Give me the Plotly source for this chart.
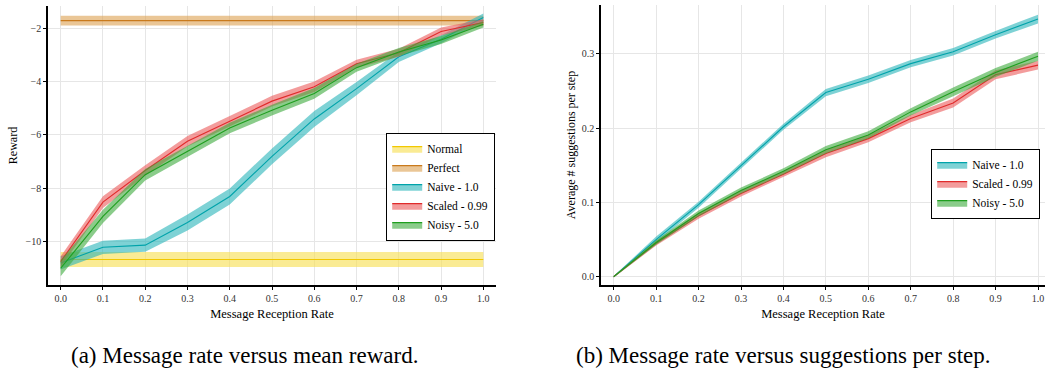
import plotly.graph_objects as go

rates = [0.0, 0.1, 0.2, 0.3, 0.4, 0.5, 0.6, 0.7, 0.8, 0.9, 1.0]

# (a) reward
normal_mean, normal_sd = -10.69, 0.28
perfect_mean, perfect_sd = -1.70, 0.18
naive_reward = [-10.82, -10.23, -10.15, -9.30, -8.32, -6.81, -5.40, -4.26, -3.06, -2.40, -1.58]
scaled_reward = [-10.77, -8.53, -7.34, -6.24, -5.49, -4.73, -4.19, -3.32, -2.91, -2.11, -1.77]
noisy_reward = [-11.02, -9.07, -7.50, -6.62, -5.74, -5.07, -4.44, -3.47, -2.88, -2.43, -1.84]
naive_reward_sd = [0.25, 0.25, 0.25, 0.3, 0.3, 0.3, 0.3, 0.25, 0.2, 0.15, 0.15]
scaled_reward_sd = [0.2, 0.22, 0.2, 0.2, 0.2, 0.2, 0.2, 0.15, 0.15, 0.15, 0.12]
noisy_reward_sd = [0.3, 0.25, 0.22, 0.22, 0.2, 0.2, 0.2, 0.15, 0.15, 0.15, 0.12]

# (b) suggestions per step
naive_sugg = [0.0, 0.050, 0.097, 0.150, 0.202, 0.248, 0.266, 0.287, 0.303, 0.326, 0.347]
scaled_sugg = [0.0, 0.045, 0.082, 0.112, 0.138, 0.166, 0.186, 0.213, 0.234, 0.272, 0.285]
noisy_sugg = [0.0, 0.046, 0.085, 0.116, 0.142, 0.171, 0.191, 0.222, 0.249, 0.275, 0.297]
naive_sugg_sd = [0.001, 0.004, 0.004, 0.004, 0.004, 0.005, 0.005, 0.005, 0.005, 0.005, 0.006]
scaled_sugg_sd = [0.001, 0.003, 0.004, 0.004, 0.004, 0.005, 0.005, 0.005, 0.006, 0.006, 0.006]
noisy_sugg_sd = [0.001, 0.003, 0.004, 0.004, 0.004, 0.005, 0.005, 0.005, 0.006, 0.006, 0.006]

colors = {
    "Normal": ("#f2c800", "rgba(248,224,90,0.65)"),
    "Perfect": ("#c97a1c", "rgba(220,160,80,0.6)"),
    "Naive - 1.0": ("#00a3aa", "rgba(40,180,185,0.6)"),
    "Scaled - 0.99": ("#e02b2b", "rgba(235,90,90,0.6)"),
    "Noisy - 5.0": ("#1f9e1f", "rgba(60,170,60,0.6)"),
}

FONT = "Liberation Serif, DejaVu Serif, serif"
fig = go.Figure()


def add_series(name, x, mean, sd, xa, ya, legend):
    line_c, fill_c = colors[name]
    up = [m + s for m, s in zip(mean, sd)]
    lo = [m - s for m, s in zip(mean, sd)]
    fig.add_trace(go.Scatter(x=x + x[::-1], y=up + lo[::-1], fill="toself", fillcolor=fill_c,
                             line=dict(width=0), mode="lines", hoverinfo="skip",
                             showlegend=False, xaxis=xa, yaxis=ya))
    fig.add_trace(go.Scatter(x=x, y=mean, mode="lines", line=dict(color=line_c, width=1.1),
                             showlegend=False, xaxis=xa, yaxis=ya))
    fig.add_trace(go.Scatter(x=[None, None, None], y=[None, None, None], fill="toself",
                             fillcolor=fill_c, line=dict(color=line_c, width=1.2), mode="lines",
                             name=name, showlegend=True, legend=legend, xaxis=xa, yaxis=ya))


add_series("Normal", rates, [normal_mean] * len(rates), [normal_sd] * len(rates), "x", "y", "legend")
add_series("Perfect", rates, [perfect_mean] * len(rates), [perfect_sd] * len(rates), "x", "y", "legend")
add_series("Naive - 1.0", rates, naive_reward, naive_reward_sd, "x", "y", "legend")
add_series("Scaled - 0.99", rates, scaled_reward, scaled_reward_sd, "x", "y", "legend")
add_series("Noisy - 5.0", rates, noisy_reward, noisy_reward_sd, "x", "y", "legend")

add_series("Naive - 1.0", rates, naive_sugg, naive_sugg_sd, "x2", "y2", "legend2")
add_series("Scaled - 0.99", rates, scaled_sugg, scaled_sugg_sd, "x2", "y2", "legend2")
add_series("Noisy - 5.0", rates, noisy_sugg, noisy_sugg_sd, "x2", "y2", "legend2")

W, H = 1046, 372


def px(v):
    return v / W


def py(v):
    return 1 - v / H


axis_common = dict(showline=True, linecolor="black", linewidth=1.5, mirror=False,
                   showgrid=True, gridcolor="#e6e6e6", gridwidth=1, zeroline=False,
                   ticks="outside", ticklen=3, tickcolor="black", automargin=False,
                   tickfont=dict(family=FONT, size=10, color="#333"))

xticks = [0.0, 0.1, 0.2, 0.3, 0.4, 0.5, 0.6, 0.7, 0.8, 0.9, 1.0]

legend_common = dict(yanchor="top", bgcolor="white", bordercolor="black",
                     borderwidth=1.2, font=dict(family=FONT, size=11.5), tracegroupgap=0,
                     itemwidth=30)

fig.update_layout(
    width=W, height=H, margin=dict(l=0, r=0, t=0, b=0, autoexpand=False),
    paper_bgcolor="white", plot_bgcolor="white",
    font=dict(family=FONT, color="black"),
    xaxis=dict(domain=[px(48), px(496)], range=[-0.03, 1.03], tickvals=xticks,
               ticktext=[f"{v:.1f}" for v in xticks],
               title=dict(text="Message Reception Rate", font=dict(family=FONT, size=12.5), standoff=6),
               anchor="y", **axis_common),
    yaxis=dict(domain=[py(285), py(6)], range=[-11.65, -1.15],
               tickvals=[-10, -8, -6, -4, -2],
               title=dict(text="Reward", font=dict(family=FONT, size=12), standoff=5),
               anchor="x", **axis_common),
    xaxis2=dict(domain=[px(601), px(1045)], range=[-0.03, 1.0165], tickvals=xticks,
                ticktext=[f"{v:.1f}" for v in xticks],
                title=dict(text="Message Reception Rate", font=dict(family=FONT, size=12.5), standoff=6),
                anchor="y2", **axis_common),
    yaxis2=dict(domain=[py(285), py(5)], range=[-0.0112, 0.366],
                tickvals=[0.0, 0.1, 0.2, 0.3], ticktext=["0.0", "0.1", "0.2", "0.3"],
                title=dict(text="Average # suggestions per step", font=dict(family=FONT, size=12), standoff=4),
                anchor="x2", **axis_common),
    legend=dict(x=px(386), y=py(133), xanchor="left", **legend_common),
    legend2=dict(x=px(1040), y=py(149), xanchor="right", **legend_common),
    annotations=[
        dict(text="(a) Message rate versus mean reward.", x=px(244), y=py(355),
             xref="paper", yref="paper", xanchor="center", yanchor="middle",
             showarrow=False, font=dict(family=FONT, size=23)),
        dict(text="(b) Message rate versus suggestions per step.", x=px(783), y=py(355),
             xref="paper", yref="paper", xanchor="center", yanchor="middle",
             showarrow=False, font=dict(family=FONT, size=23)),
    ],
)

fig.write_html(
    "out.html",
    config={"displayModeBar": False},
    post_script="document.body.style.margin='0';document.body.style.overflow='hidden';",
)
